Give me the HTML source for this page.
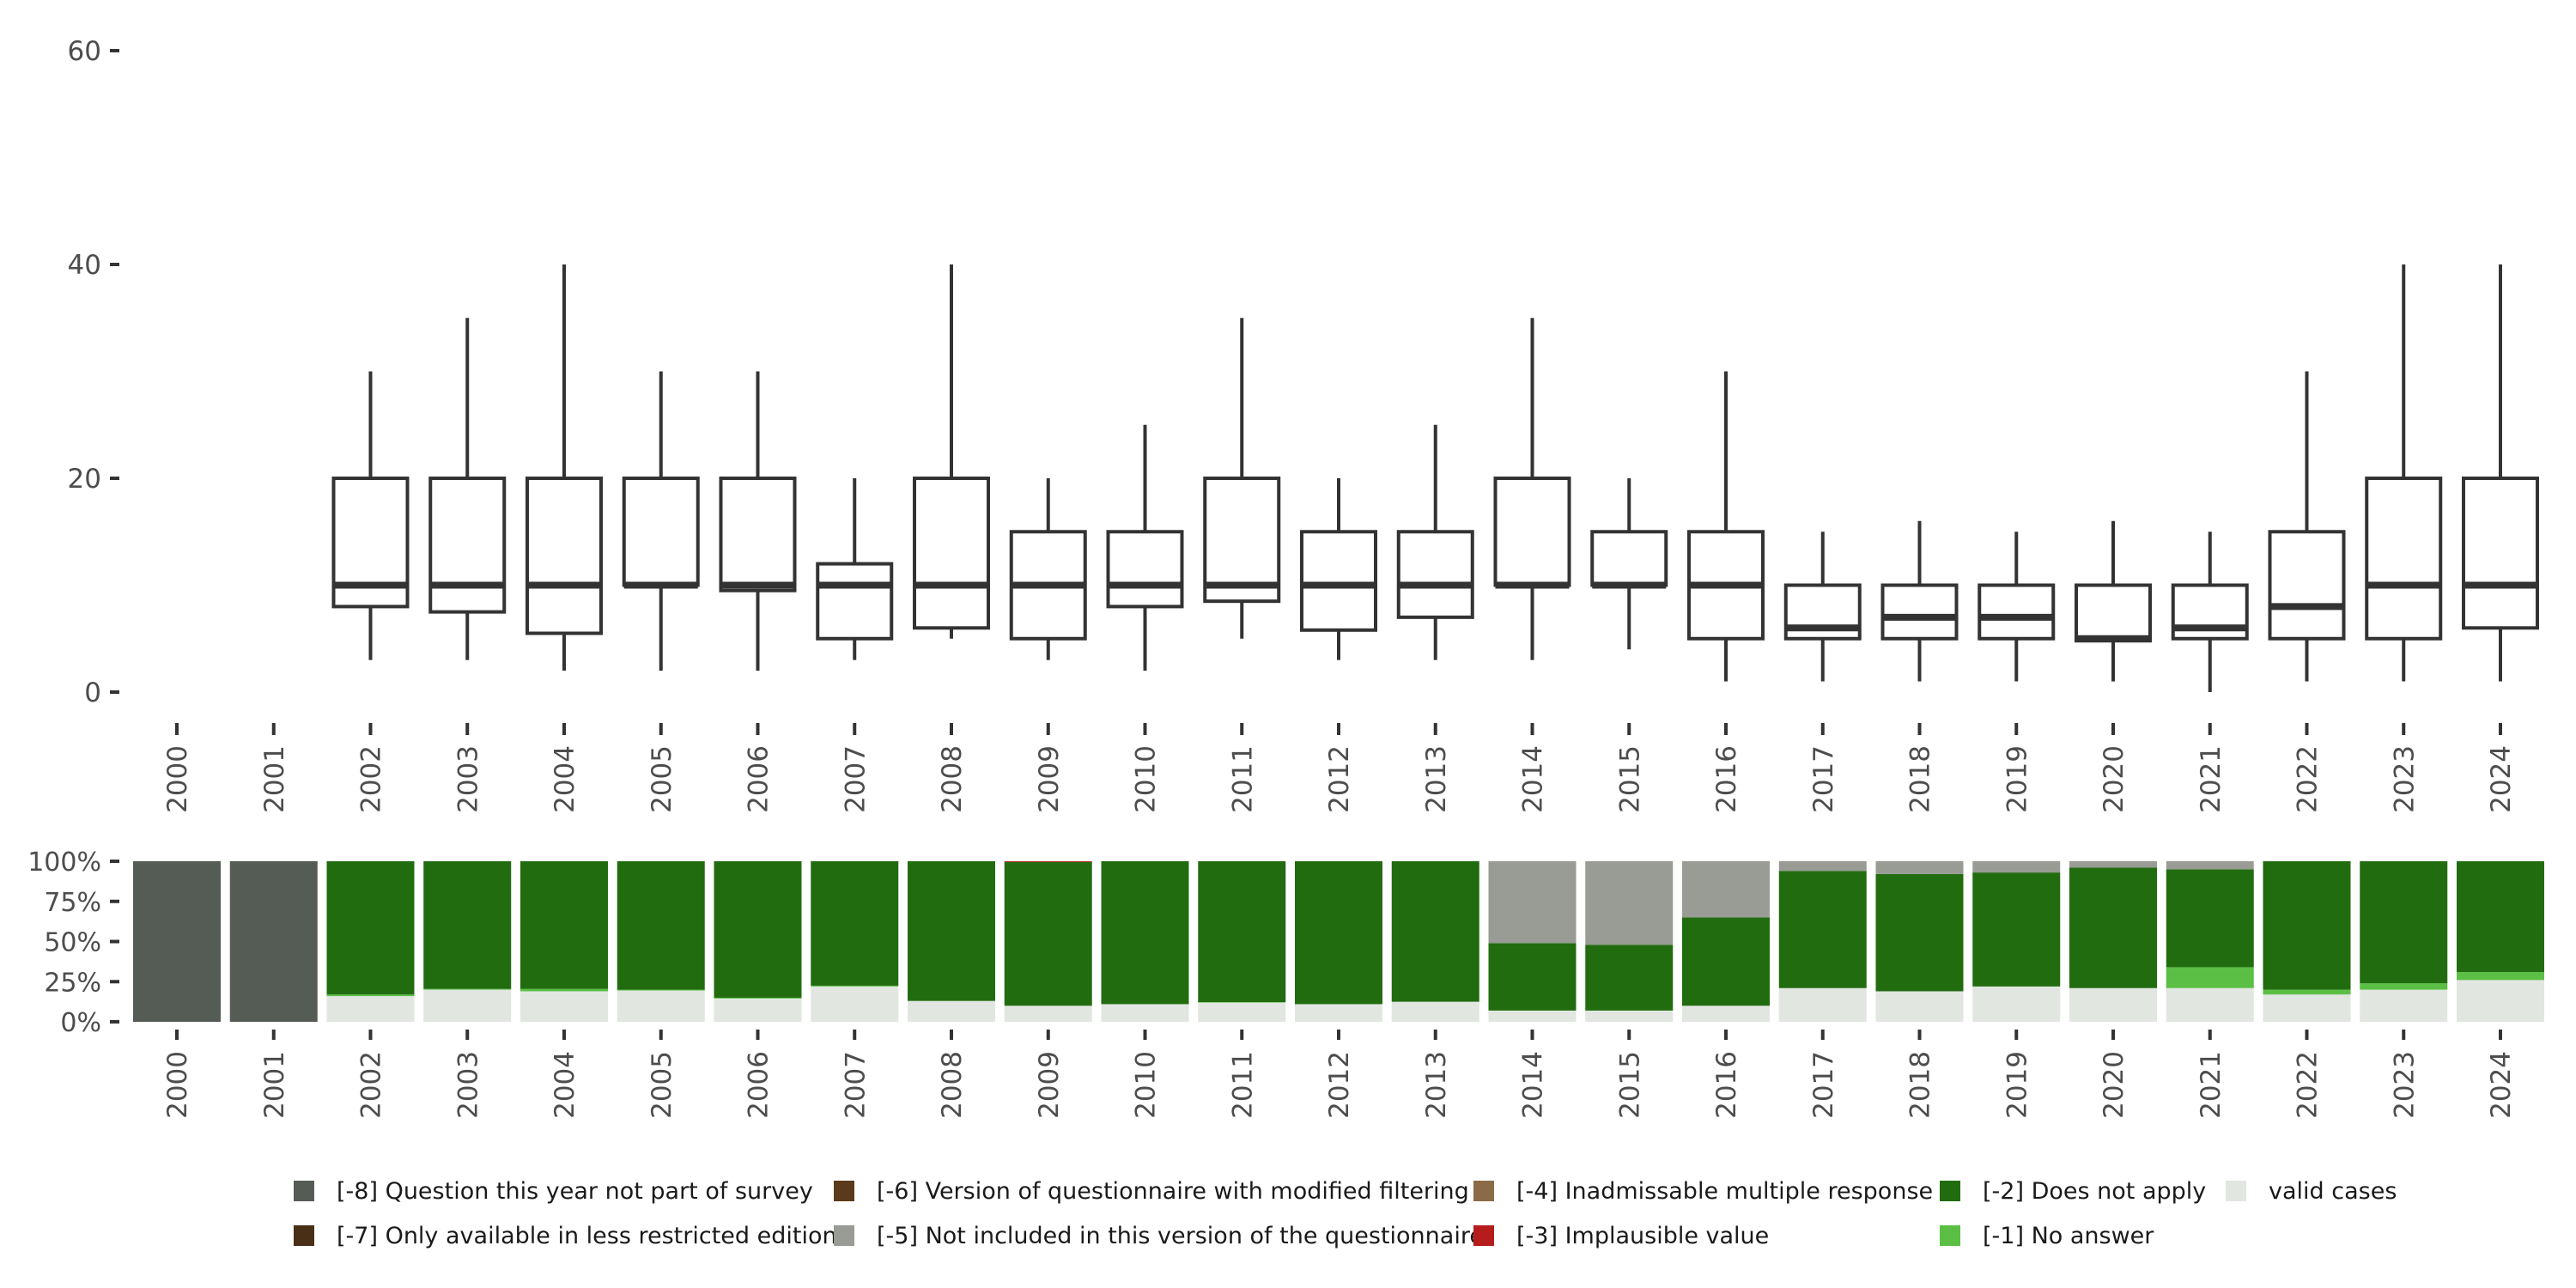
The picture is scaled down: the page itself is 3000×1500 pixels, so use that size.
<!DOCTYPE html>
<html><head><meta charset="utf-8"><style>
body{margin:0;background:#fff;}
svg{display:block;font-family:"DejaVu Sans","Liberation Sans",sans-serif;}
</style></head><body>
<svg id="c" width="3000" height="1500"></svg>
<script>
const years=["2000","2001","2002","2003","2004","2005","2006","2007","2008","2009","2010","2011","2012","2013","2014","2015","2016","2017","2018","2019","2020","2021","2022","2023","2024"];
const wLo=[null,null,3,3,2,2,2,3,5,3,2,5,3,3,3,4,1,1,1,1,1,0,1,1,1];
const q1=[null,null,8,7.5,5.5,10,9.5,5,6,5,8,8.5,5.8,7,10,10,5,5,5,5,4.8,5,5,5,6];
const med=[null,null,10,10,10,10,10,10,10,10,10,10,10,10,10,10,10,6,7,7,5,6,8,10,10];
const q3=[null,null,20,20,20,20,20,12,20,15,15,20,15,15,20,15,15,10,10,10,10,10,15,20,20];
const wHi=[null,null,30,35,40,30,30,20,40,20,25,35,20,25,35,20,30,15,16,15,16,15,30,40,40];
const yTicks=[0,20,40,60];
const pValid=[0,0,16,20,19,19.5,14.5,22,13,10,11,12,11,12.5,7,7,10,21,19,22,21,21,17,20,26];
const pNoAns=[0,0,1,0.5,1.5,0.5,0.5,0.5,0,0,0,0.3,0,0,0,0,0,0,0,0,0,13,3,4,5];
const pNotApply=[0,0,83,79.5,79.5,80,85,77.5,87,89.5,89,87.7,89,87.5,42,41,55,73,73,71,75,61,80,76,69];
const pImpl=[0,0,0,0,0,0,0,0,0,0.5,0,0,0,0,0,0,0,0,0,0,0,0,0,0,0];
const pNotIncl=[0,0,0,0,0,0,0,0,0,0,0,0,0,0,51,52,35,6,8,7,4,5,0,0,0];
const pNotSurvey=[100,100,0,0,0,0,0,0,0,0,0,0,0,0,0,0,0,0,0,0,0,0,0,0,0];
const pctTicks=[0,25,50,75,100];
const NS="http://www.w3.org/2000/svg";
const svg=document.getElementById('c');
function mk(t,a,p){const e=document.createElementNS(NS,t);for(const k in a)e.setAttribute(k,a[k]);(p||svg).appendChild(e);return e;}
const step=112.75,x0=206;
const X=i=>x0+i*step;
const Y=v=>806-v*(806-59)/60;
const P=v=>1190-v*(1190-1003)/100;
yTicks.forEach(t=>{
 const l=mk('line',{x1:128,x2:139,y1:Y(t),y2:Y(t),stroke:'#333','stroke-width':4});
 
 const tx=mk('text',{x:118,y:Y(t)+11,'text-anchor':'end','font-size':31,fill:'#4d4d4d'});tx.textContent=t;
 
});
years.forEach((yr,i)=>{
 const x=X(i);
 mk('line',{x1:x,x2:x,y1:842,y2:856,stroke:'#333','stroke-width':4});
 const t=mk('text',{x:0,y:0,'font-size':31,fill:'#4d4d4d','text-anchor':'end',transform:`translate(${x+11},868) rotate(-90)`});t.textContent=yr;
 
 if(med[i]!==null){
  const g=mk('g',{});
  
  
  const bw=86;
  mk('line',{x1:x,x2:x,y1:Y(wHi[i]),y2:Y(q3[i]),stroke:'#333','stroke-width':4},g);
  mk('line',{x1:x,x2:x,y1:Y(q1[i]),y2:Y(wLo[i]),stroke:'#333','stroke-width':4},g);
  mk('rect',{x:x-bw/2,y:Y(q3[i]),width:bw,height:Y(q1[i])-Y(q3[i]),fill:'#fff',stroke:'#333','stroke-width':4},g);
  mk('line',{x1:x-bw/2,x2:x+bw/2,y1:Y(med[i]),y2:Y(med[i]),stroke:'#333','stroke-width':8},g);
 }
});
pctTicks.forEach(t=>{
 mk('line',{x1:128,x2:139,y1:P(t),y2:P(t),stroke:'#333','stroke-width':4});
 const tx=mk('text',{x:118,y:P(t)+11,'text-anchor':'end','font-size':30,fill:'#4d4d4d'});tx.textContent=t+'%';
 
});
const series=[[pValid,'#e2e6e1'],[pNoAns,'#5bbf45'],[pNotApply,'#226c10'],[pImpl,'#b71c1c'],[pNotIncl,'#999b95'],[pNotSurvey,'#555b55']];
years.forEach((yr,i)=>{
 const x=X(i);let acc=0;
 series.forEach(([arr,col])=>{
  const v=arr[i];if(v>0){
   const r=mk('rect',{x:x-51,y:P(acc+v),width:102,height:P(acc)-P(acc+v),fill:col});
   
  }
  acc+=v;
 });
 mk('line',{x1:x,x2:x,y1:1199,y2:1211,stroke:'#333','stroke-width':4});
 const t=mk('text',{x:0,y:0,'font-size':31,fill:'#4d4d4d','text-anchor':'end',transform:`translate(${x+11},1224) rotate(-90)`});t.textContent=yr;
 
});
const leg=[
 [342,1387,'#555b55','[-8] Question this year not part of survey'],
 [342,1439,'#4a2f17','[-7] Only available in less restricted edition'],
 [971,1387,'#5a3a1a','[-6] Version of questionnaire with modified filtering'],
 [971,1439,'#999b95','[-5] Not included in this version of the questionnaire'],
 [1716,1387,'#8b6a47','[-4] Inadmissable multiple response'],
 [1716,1439,'#b71c1c','[-3] Implausible value'],
 [2259,1387,'#226c10','[-2] Does not apply'],
 [2259,1439,'#5bbf45','[-1] No answer'],
 [2592,1387,'#e2e6e1','valid cases']];
leg.forEach(([x,y,c,l])=>{
 const g=mk('g',{});
 
 
 mk('rect',{x:x,y:y-12,width:24,height:24,fill:c},g);
 const t=mk('text',{x:x+50,y:y+9,'font-size':27,fill:'#1a1a1a'},g);t.textContent=l;
});
</script>
</body></html>
